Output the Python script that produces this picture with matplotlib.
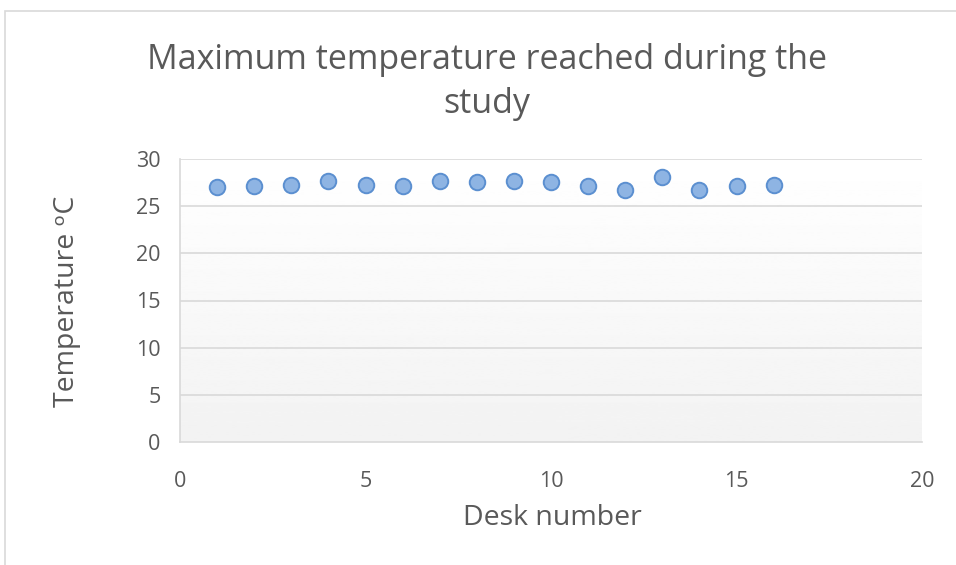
import matplotlib
matplotlib.use("Agg")
import matplotlib.pyplot as plt
import numpy as np
from matplotlib.patches import Rectangle

desk = [1, 2, 3, 4, 5, 6, 7, 8, 9, 10, 11, 12, 13, 14, 15, 16]
temp = [27.0, 27.1, 27.2, 27.7, 27.2, 27.1, 27.7, 27.6, 27.7, 27.6, 27.1, 26.7, 28.1, 26.7, 27.1, 27.2]
xticks = [0, 5, 10, 15, 20]
yticks = [0, 5, 10, 15, 20, 25, 30]

plt.rcParams['font.family'] = ['Open Sans', 'DejaVu Sans']
grey = '#595959'

fig = plt.figure(figsize=(9.56, 5.65), dpi=100)
fig.patch.set_facecolor('white')
W, H = 956, 565
fig.patches.append(Rectangle((5 / W, -0.1), 1.2, (H - 11) / H + 0.1, transform=fig.transFigure,
                             fill=False, edgecolor='#d9d9d9', linewidth=1.2))

ax = fig.add_axes([180 / W, 1 - 442 / H, (922 - 180) / W, (442 - 159) / H])
ax.set_xlim(0, 20)
ax.set_ylim(0, 30)

grad = np.linspace(0.95, 1.0, 256).reshape(-1, 1)
ax.imshow(grad, extent=[0, 20, 0, 30], origin='lower', aspect='auto', cmap='gray',
          vmin=0, vmax=1, zorder=0)

for y in yticks[1:]:
    ax.axhline(y, color='#d9d9d9', linewidth=1.2, zorder=1)

ax.scatter(desk, temp, s=125, facecolor='#8eb4e3', edgecolor='#5b8fd0', linewidth=1.4, zorder=3)

ax.set_xticks(xticks)
ax.set_yticks(yticks)
ax.tick_params(axis='both', length=0, colors=grey, labelsize=15.5)
ax.tick_params(axis='x', pad=21)
ax.tick_params(axis='y', pad=14)
for s in ['top', 'right']:
    ax.spines[s].set_visible(False)
for s in ['left', 'bottom']:
    ax.spines[s].set_color('#d9d9d9')
    ax.spines[s].set_linewidth(1.2)

fig.text(552 / W, 1 - 518 / H, 'Desk number', ha='center', va='center', fontsize=20.5, color=grey)
fig.text(67 / W, 1 - 301 / H, 'Temperature \u1d52C', ha='center', va='center', rotation=90,
         fontsize=20.5, color=grey)
fig.text(487 / W, 1 - 82 / H, 'Maximum temperature reached during the\nstudy', ha='center', va='center',
         fontsize=24.5, color=grey, linespacing=1.42)

fig.savefig('out.png', dpi=100)
